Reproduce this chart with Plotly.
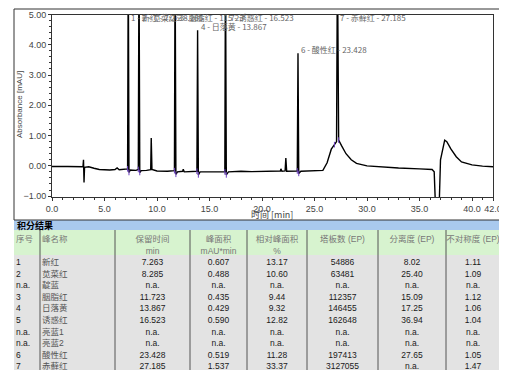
import plotly.graph_objects as go

# ---------------- chromatogram data ----------------
time_min = [0.0, 0.5, 1.0, 1.5, 2.0, 2.5, 2.95, 3.0, 3.05, 3.1, 3.5, 4.0, 4.5, 5.0, 5.5, 6.0, 6.2, 6.4,
            7.0, 7.2, 7.263, 7.33, 7.45, 8.0, 8.22, 8.285, 8.36, 8.5, 9.0, 9.4, 9.45, 9.52, 10.0, 11.0,
            11.66, 11.723, 11.8, 11.95, 12.45, 12.5, 12.6, 13.0, 13.8, 13.867, 13.94, 14.1, 15.0, 16.0,
            16.46, 16.523, 16.6, 16.8, 18.0, 19.0, 20.0, 21.0, 21.75, 21.8, 21.9, 22.2, 22.27, 22.35, 23.0,
            23.36, 23.428, 23.5, 23.7, 25.0, 25.8, 26.2, 26.6, 26.9, 27.1, 27.185, 27.3, 27.6, 28.0, 28.5,
            29.0, 30.0, 31.0, 33.0, 35.0, 36.2, 36.4, 36.55, 36.85, 37.0, 37.4, 37.6, 38.0, 38.5, 39.0,
            40.0, 41.0, 42.0]
absorbance = [-0.02, -0.01, -0.02, -0.02, -0.03, -0.02, -0.03, 0.2, -0.55, -0.05, -0.03, -0.08, -0.12, -0.13, -0.14, -0.12, -0.07, -0.13,
              -0.12, -0.1, 7.0, -0.22, -0.14, -0.15, -0.12, 7.0, -0.22, -0.16, -0.15, -0.13, 0.92, -0.12, -0.17, -0.18,
              -0.16, 7.0, -0.28, -0.2, -0.18, -0.11, -0.2, -0.2, -0.18, 4.48, -0.3, -0.2, -0.2, -0.19,
              -0.2, 7.0, -0.3, -0.2, -0.18, -0.19, -0.18, -0.18, -0.17, -0.1, -0.18, -0.17, 0.26, -0.18, -0.18,
              -0.17, 3.72, -0.25, -0.18, -0.17, -0.15, 0.1, 0.55, 0.7, 0.8, 7.0, 0.85, 0.65, 0.4, 0.2,
              0.08, 0.0, -0.03, -0.07, -0.1, -0.12, -0.2, -1.6, -1.6, 0.2, 0.85, 0.8, 0.55, 0.3, 0.13,
              0.03, -0.01, -0.03]

# peak labels
peak_no = ["1", "2", "3", "4", "5", "6", "7"]
peak_name = ["新红", "苋菜红", "胭脂红", "日落黄", "诱惑红", "酸性红", "赤藓红"]
peak_time = [7.263, 8.285, 11.723, 13.867, 16.523, 23.428, 27.185]
peak_apex = [7.0, 7.0, 7.0, 4.48, 7.0, 3.72, 7.0]

# integration delimiter marks
mark_time = [7.2, 7.33, 8.22, 8.36, 11.66, 11.8, 13.8, 13.94, 16.46, 16.6, 23.36, 23.5, 26.9, 27.3]
mark_abs = [-0.1, -0.22, -0.12, -0.22, -0.16, -0.28, -0.18, -0.3, -0.2, -0.3, -0.17, -0.25, 0.7, 0.85]

# ---------------- table data ----------------
head_line1 = ["序号", "峰名称", "保留时间", "峰面积", "相对峰面积", "塔板数 (EP)", "分离度 (EP)", "不对称度 (EP)"]
head_line2 = ["", "", "min", "mAU*min", "%", "", "", ""]
seq = ["1", "2", "n.a.", "3", "4", "5", "n.a.", "n.a.", "6", "7"]
names = ["新红", "苋菜红", "靛蓝", "胭脂红", "日落黄", "诱惑红", "亮蓝1", "亮蓝2", "酸性红", "赤藓红"]
ret_time = ["7.263", "8.285", "n.a.", "11.723", "13.867", "16.523", "n.a.", "n.a.", "23.428", "27.185"]
area = ["0.607", "0.488", "n.a.", "0.435", "0.429", "0.590", "n.a.", "n.a.", "0.519", "1.537"]
rel_area = ["13.17", "10.60", "n.a.", "9.44", "9.32", "12.82", "n.a.", "n.a.", "11.28", "33.37"]
plates = ["54886", "63481", "n.a.", "112357", "146455", "162648", "n.a.", "n.a.", "197413", "3127055"]
resolution = ["8.02", "25.40", "n.a.", "15.09", "17.25", "36.94", "n.a.", "n.a.", "27.65", "n.a."]
asymmetry = ["1.11", "1.09", "n.a.", "1.12", "1.06", "1.04", "n.a.", "n.a.", "1.05", "1.47"]

# The page body has an 8px margin: the figure is drawn 8px in from the window corner.
OFF = 8
W, H = 507 - OFF, 370 - OFF
FONT = "Liberation Sans, Arial, Noto Sans CJK SC, sans-serif"
CJK = "Noto Sans CJK SC, Liberation Sans, sans-serif"
ROW_H = 11.55
CLEAR = "rgba(0,0,0,0)"

def px_x(p):
    return min(max((p - OFF) / W, 0.0), 1.0)

def px_y(p):
    return min(max(1 - (p - OFF) / H, 0.0), 1.0)

fig = go.Figure()

fig.add_trace(go.Scatter(x=time_min, y=absorbance, mode="lines",
                         line=dict(color="black", width=1.4), hoverinfo="skip", showlegend=False))
fig.add_trace(go.Scatter(x=mark_time, y=mark_abs, mode="markers",
                         marker=dict(symbol="line-ns", size=4, line=dict(color="#6a3fc0", width=1)),
                         hoverinfo="skip", showlegend=False))

for n, nm, t, a in zip(peak_no, peak_name, peak_time, peak_apex):
    fig.add_annotation(x=t, y=min(a, 4.9), text=f"{n} - {nm} - {t:.3f}", showarrow=False,
                       xanchor="left", yanchor="middle", xshift=1, yshift=0 if a > 4.9 else 4,
                       font=dict(family=CJK, size=8, color="#666666"))

# table: two header lines + data rows, transparent cells (backgrounds drawn as shapes)
data_cols = [seq, names, ret_time, area, rel_area, plates, resolution, asymmetry]
nbsp = "\u00a0"
values = [[h1.replace(" ", nbsp), h2] + col for h1, h2, col in zip(head_line1, head_line2, data_cols)]
n_rows = len(values[0])
head_col = "#777777"
font_colors = []
for ci in range(len(values)):
    body = "#555555" if ci == 1 else "#1a1a1a"
    font_colors.append([head_col, head_col] + [body] * (n_rows - 2))

fig.add_trace(go.Table(
    domain=dict(x=[px_x(8), px_x(500)], y=[0, px_y(211.8)]),
    columnwidth=[26, 81, 75, 57, 60, 71, 68, 54],
    header=dict(values=[], fill_color=CLEAR, line=dict(width=0, color=CLEAR)),
    cells=dict(values=values, height=ROW_H, fill_color=CLEAR,
               line=dict(width=0, color=CLEAR),
               align=["left", "left", "center", "center", "center", "center", "center", "center"],
               font=dict(family=FONT, size=8.5, color=font_colors)),
))

shapes = []
# outer frame of chromatogram
shapes.append(dict(type="rect", xref="paper", yref="paper", x0=px_x(14), x1=px_x(500),
                   y0=px_y(220), y1=px_y(9), line=dict(color="#333333", width=1)))
# blue title bar
shapes.append(dict(type="rect", xref="paper", yref="paper", x0=px_x(14), x1=1,
                   y0=px_y(230), y1=px_y(220), fillcolor="#a9c9ee", line=dict(width=0), layer="below"))
# table header background and body background
shapes.append(dict(type="rect", xref="paper", yref="paper", x0=px_x(14), x1=px_x(500),
                   y0=px_y(255), y1=px_y(230), fillcolor="#d7f3cf", line=dict(width=0), layer="below"))
shapes.append(dict(type="rect", xref="paper", yref="paper", x0=px_x(14), x1=px_x(500),
                   y0=0, y1=px_y(255), fillcolor="#e3e3e3", line=dict(width=0), layer="below"))
# table column dividers
for xp in [40, 115, 190, 247, 307, 378, 446]:
    shapes.append(dict(type="line", xref="paper", yref="paper", x0=px_x(xp), x1=px_x(xp),
                       y0=0, y1=px_y(230), line=dict(color="#555555", width=1), layer="above"))

fig.add_annotation(xref="paper", yref="paper", x=px_x(15), y=px_y(225), text="<b>积分结果</b>",
                   showarrow=False, xanchor="left", yanchor="middle",
                   font=dict(family=CJK, size=9, color="black"))
# axis titles
fig.add_annotation(xref="paper", yref="paper", x=px_x(20), y=px_y(105), text="Absorbance [mAU]",
                   textangle=-90, showarrow=False, xanchor="center", yanchor="middle",
                   font=dict(family=FONT, size=8, color="#444"))
fig.add_annotation(xref="paper", yref="paper", x=px_x(272), y=px_y(214), text="时间 [min]",
                   showarrow=False, xanchor="center", yanchor="middle",
                   font=dict(family=CJK, size=9, color="#444"))

fig.update_layout(
    width=W, height=H, margin=dict(l=0, r=0, t=0, b=0, autoexpand=False),
    paper_bgcolor="white", plot_bgcolor="white",
    shapes=shapes,
    xaxis=dict(domain=[px_x(52), px_x(493)], range=[0, 42], tickvals=[0, 5, 10, 15, 20, 25, 30, 35, 40, 42],
               tickformat=".1f", ticks="outside", ticklen=3, tickcolor="#333", showline=True, linecolor="#333",
               mirror=True, showgrid=False, zeroline=False, automargin=False,
               minor=dict(dtick=1, ticks="outside", ticklen=2, tickcolor="#333"),
               tickfont=dict(family=FONT, size=9, color="#444")),
    yaxis=dict(domain=[px_y(197), px_y(14.5)], range=[-1.03, 5.0], tickvals=[-1, 0, 1, 2, 3, 4, 5],
               tickformat=".2f", ticks="outside", ticklen=3, tickcolor="#333", showline=True, linecolor="#333",
               mirror=True, showgrid=False, zeroline=False, automargin=False,
               minor=dict(dtick=0.2, ticks="outside", ticklen=2, tickcolor="#333"),
               tickfont=dict(family=FONT, size=9, color="#444")),
)

fig.write_html("out.html")
